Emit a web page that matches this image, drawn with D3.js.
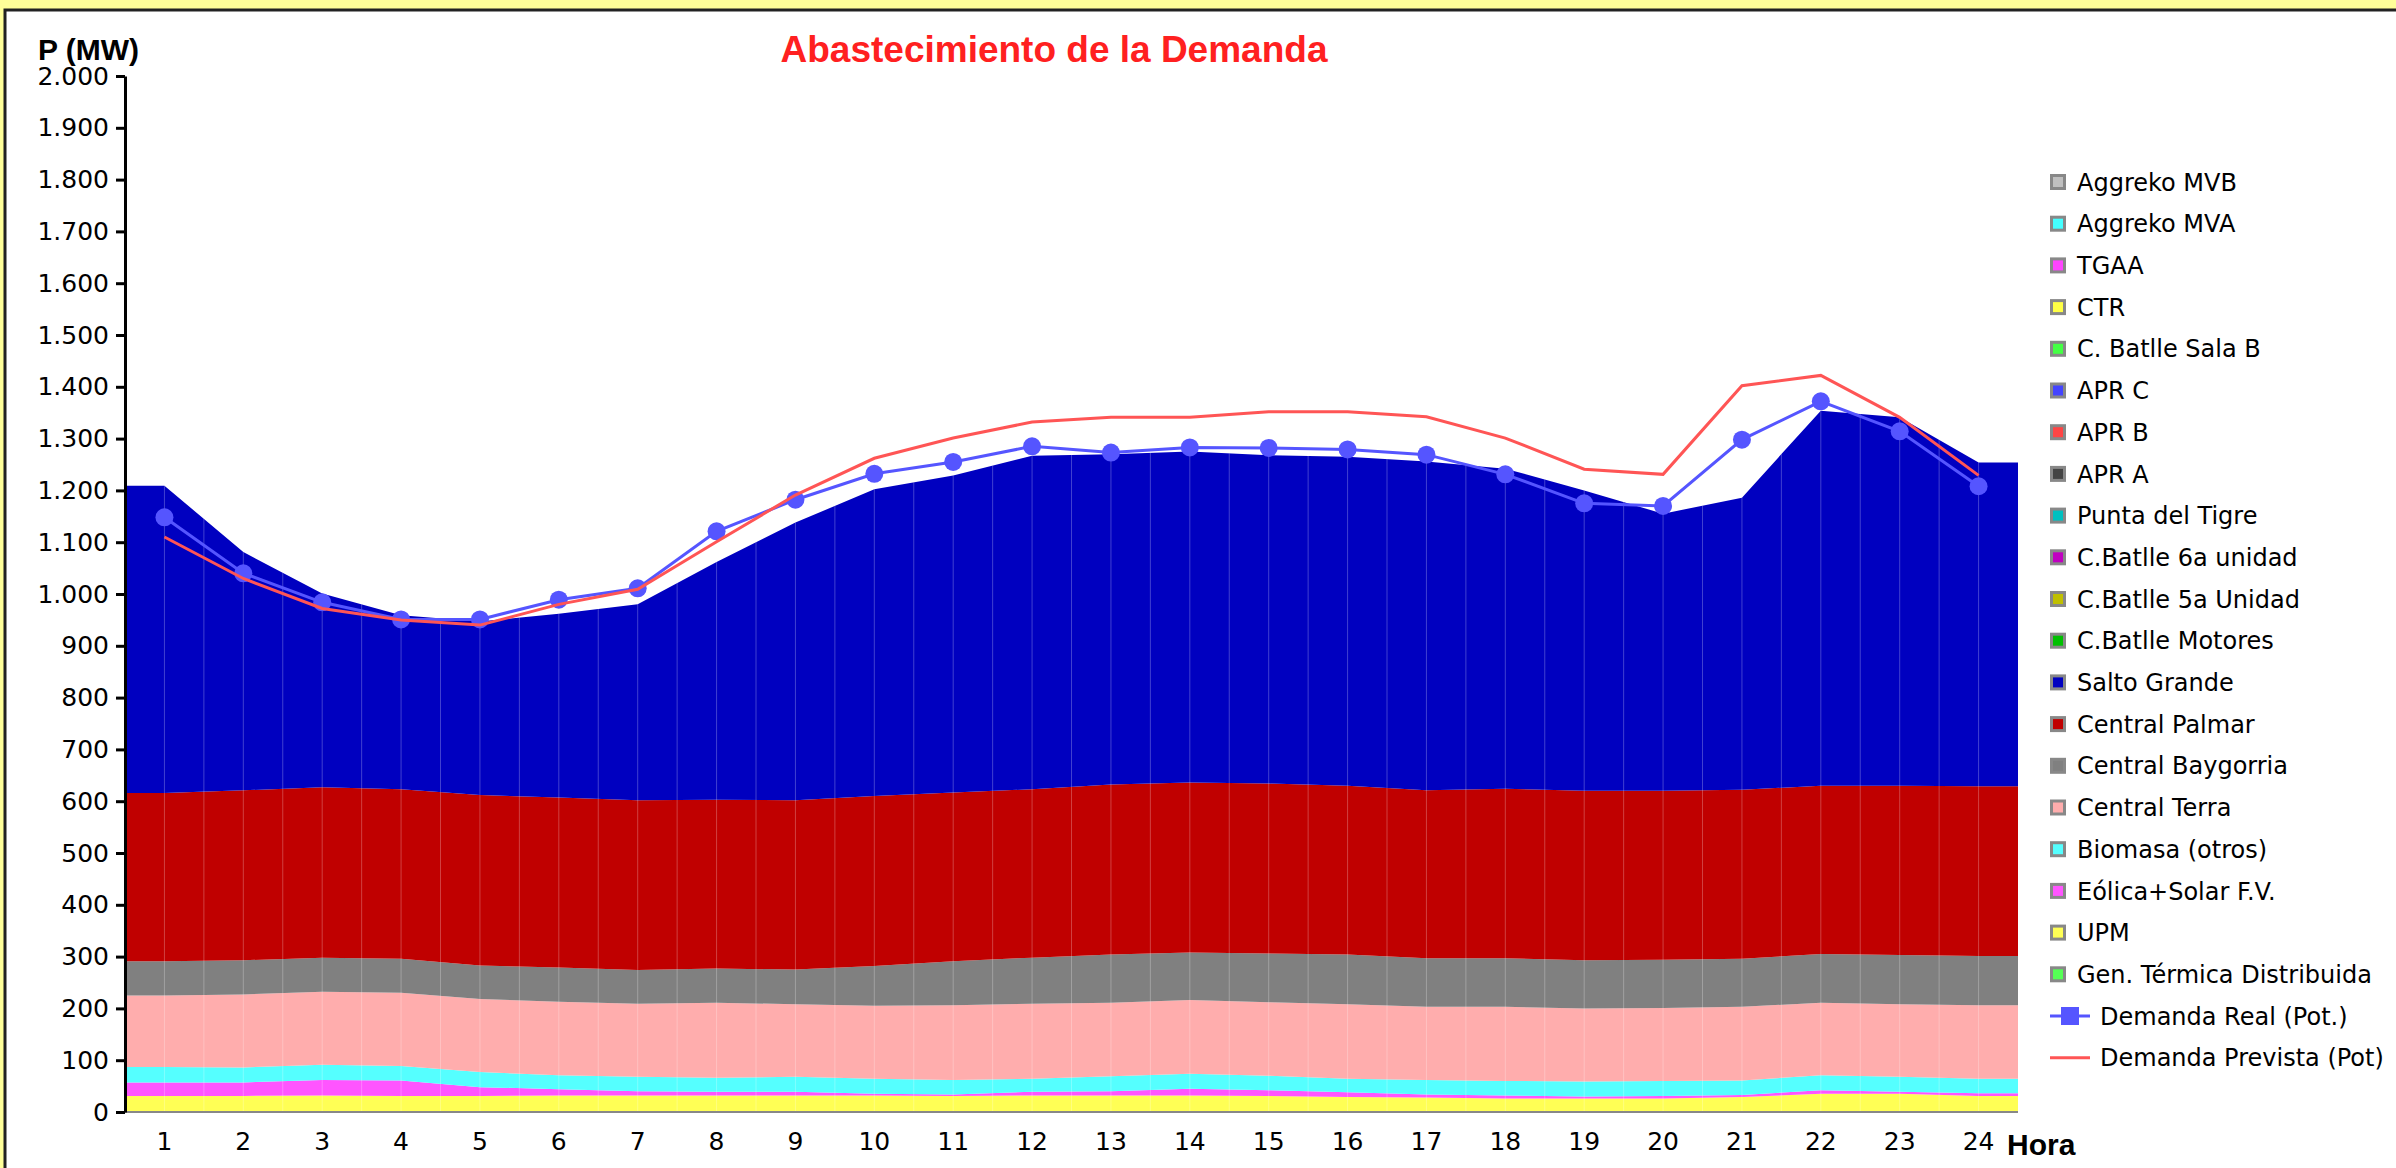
<!DOCTYPE html>
<html>
<head>
<meta charset="utf-8">
<script src="https://cdn.jsdelivr.net/npm/d3@7"></script>
<style>
  html, body { margin: 0; padding: 0; background: #FFFF99; overflow: hidden; }
  svg { display: block; }
</style>
</head>
<body>
<script>
const hours = [1,2,3,4,5,6,7,8,9,10,11,12,13,14,15,16,17,18,19,20,21,22,23,24];

// MW por hora, capas apiladas de abajo hacia arriba
const genTermica  = [2,2,2,2,2,2,2,2,2,2,2,2,2,2,2,2,2,2,2,2,2,2,2,2];
const upm         = [29,29,30,29,29,30,30,30,30,30,29,30,30,30,29,27,26,24,24,24,27,33,33,29];
const eolica      = [26,26,30,30,17,12,8,7,7,3,3,7,8,13,11,9,6,6,4,5,4,7,4,5];
const biomasa     = [30,29,29,28,29,27,28,27,29,29,28,25,29,29,28,26,28,28,29,29,28,29,29,28];
const terra       = [138,141,141,141,141,142,141,145,140,141,144,145,142,142,142,144,141,143,141,141,142,140,140,142];
const baygorria   = [66,66,66,66,65,66,65,66,67,77,85,89,93,92,94,96,94,94,93,93,93,94,95,95];
const palmar      = [325,328,329,327,329,328,328,326,327,328,326,325,328,328,328,326,324,327,327,326,326,325,327,328];
const saltoGrande = [593,460,374,336,335,355,378,459,536,592,612,644,638,639,634,635,635,618,580,535,564,724,711,625];

const demandaReal     = [1148,1040,984,951,951,989,1011,1121,1182,1232,1255,1285,1273,1283,1282,1279,1269,1231,1175,1170,1298,1372,1314,1208];
const demandaPrevista = [1110,1030,972,950,940,980,1009,1101,1191,1262,1301,1332,1341,1341,1352,1352,1342,1301,1241,1231,1402,1422,1341,1229];

const yTicks = [0,100,200,300,400,500,600,700,800,900,1000,1100,1200,1300,1400,1500,1600,1700,1800,1900,2000];

const legendNames = ['Aggreko MVB','Aggreko MVA','TGAA','CTR','C. Batlle Sala B','APR C','APR B','APR A',
  'Punta del Tigre','C.Batlle 6a unidad','C.Batlle 5a Unidad','C.Batlle Motores','Salto Grande',
  'Central Palmar','Central Baygorria','Central Terra','Biomasa (otros)','Eólica+Solar F.V.','UPM',
  'Gen. Térmica Distribuida'];

const colors = {
  'Aggreko MVB': '#C0C0C0', 'Aggreko MVA': '#44FFFF', 'TGAA': '#FF44FF', 'CTR': '#FFFF44',
  'C. Batlle Sala B': '#44FF44', 'APR C': '#4444FF', 'APR B': '#FF4444', 'APR A': '#444444',
  'Punta del Tigre': '#00C0C0', 'C.Batlle 6a unidad': '#C000C0', 'C.Batlle 5a Unidad': '#C0C000',
  'C.Batlle Motores': '#00C000', 'Salto Grande': '#0000C0', 'Central Palmar': '#C00000',
  'Central Baygorria': '#808080', 'Central Terra': '#FFADAD', 'Biomasa (otros)': '#55FFFF',
  'Eólica+Solar F.V.': '#FF55FF', 'UPM': '#FFFF55', 'Gen. Térmica Distribuida': '#55FF55'
};

const stackKeys = ['Gen. Térmica Distribuida','UPM','Eólica+Solar F.V.','Biomasa (otros)',
  'Central Terra','Central Baygorria','Central Palmar','Salto Grande'];
const stackValues = [genTermica, upm, eolica, biomasa, terra, baygorria, palmar, saltoGrande];

const table = hours.map((h, i) => {
  const row = { hora: h };
  stackKeys.forEach((k, j) => row[k] = stackValues[j][i]);
  return row;
});

const width = 2396, height = 1168;
const svg = d3.select('body').append('svg')
    .attr('width', width)
    .attr('height', height);

// panel blanco
svg.append('rect')
    .attr('x', 5).attr('y', 10)
    .attr('width', width).attr('height', height)
    .attr('fill', '#fff')
    .attr('stroke', '#222')
    .attr('stroke-width', 3);

const x = d3.scaleBand().domain(hours).range([125, 2018]);
const cx = h => x(h) + x.bandwidth() / 2;
const y = d3.scaleLinear().domain([0, 2000]).range([1112, 76]);

const stacked = d3.stack().keys(stackKeys)(table);

// puntos en el centro de cada hora, extendidos hasta los bordes
const points = layer => [
  { px: x.range()[0], d: layer[0] },
  ...layer.map((d, i) => ({ px: cx(hours[i]), d })),
  { px: x.range()[1], d: layer[layer.length - 1] }
];

const area = d3.area()
    .x(p => p.px)
    .y0(p => y(p.d[0]))
    .y1(p => y(p.d[1]));

const plot = svg.append('g');

plot.selectAll('path.layer')
  .data(stacked)
  .join('path')
    .attr('class', 'layer')
    .attr('fill', d => colors[d.key])
    .attr('d', d => area(points(d)));

// vetas verticales dentro del area
const topLayer = stacked[stacked.length - 1];
svg.append('clipPath').attr('id', 'clipArea')
  .append('path')
    .attr('d', d3.area().x(p => p.px).y0(y(0)).y1(p => y(p.d[1]))(points(topLayer)));

const seams = [];
for (let k = 1; k < hours.length * 2; k++) seams.push(x.range()[0] + k * x.bandwidth() / 2);
plot.append('g')
    .attr('clip-path', 'url(#clipArea)')
  .selectAll('line')
  .data(seams)
  .join('line')
    .attr('x1', d => d).attr('x2', d => d)
    .attr('y1', y(0)).attr('y2', y(2000))
    .attr('stroke', '#fff')
    .attr('stroke-opacity', 0.25)
    .attr('stroke-width', 1);

// linea base
plot.append('line')
    .attr('x1', x.range()[0]).attr('x2', x.range()[1])
    .attr('y1', y(0)).attr('y2', y(0))
    .attr('stroke', '#888')
    .attr('stroke-width', 2);

// demanda real
const line = d3.line().x((d, i) => cx(hours[i])).y(d => y(d));
plot.append('path')
    .attr('fill', 'none')
    .attr('stroke', '#5555FF')
    .attr('stroke-width', 3)
    .attr('d', line(demandaReal));
plot.selectAll('circle')
  .data(demandaReal)
  .join('circle')
    .attr('cx', (d, i) => cx(hours[i]))
    .attr('cy', d => y(d))
    .attr('r', 9)
    .attr('fill', '#5555FF');

// demanda prevista
plot.append('path')
    .attr('fill', 'none')
    .attr('stroke', '#FF5555')
    .attr('stroke-width', 3)
    .attr('d', line(demandaPrevista));

// ejes
const fmt = d3.formatLocale({ decimal: ',', thousands: '.', grouping: [3], currency: ['', ''] }).format(',');

const yAxis = svg.append('g')
    .attr('transform', `translate(${x.range()[0]},0)`)
    .call(d3.axisLeft(y).tickValues(yTicks).tickFormat(fmt).tickSize(9).tickPadding(7).tickSizeOuter(0));
yAxis.select('.domain').attr('stroke', '#000').attr('stroke-width', 3);
yAxis.selectAll('.tick line').attr('stroke', '#000').attr('stroke-width', 3);
yAxis.selectAll('.tick text')
    .attr('fill', '#000')
    .style('font', '25px "DejaVu Sans"');

const xAxis = svg.append('g')
    .attr('transform', `translate(0,${y(0)})`)
    .call(d3.axisBottom(x).tickSize(0).tickPadding(20));
xAxis.select('.domain').remove();
xAxis.selectAll('.tick text')
    .attr('fill', '#000')
    .style('font', '25px "DejaVu Sans"');

// textos
svg.append('text')
    .attr('x', 1054).attr('y', 62)
    .attr('text-anchor', 'middle')
    .attr('fill', '#FF2020')
    .style('font', 'bold 37px "Liberation Sans", Arial, sans-serif')
    .text('Abastecimiento de la Demanda');

svg.append('text')
    .attr('x', 38).attr('y', 60)
    .attr('fill', '#000')
    .style('font', 'bold 30px "Liberation Sans", Arial, sans-serif')
    .text('P (MW)');

svg.append('text')
    .attr('x', 2007).attr('y', 1155)
    .attr('fill', '#000')
    .style('font', 'bold 30px "Liberation Sans", Arial, sans-serif')
    .text('Hora');

// leyenda
const legend = svg.append('g').attr('transform', 'translate(2050,182)');
const rowH = 41.7;

const items = legend.selectAll('g.item')
  .data(legendNames)
  .join('g')
    .attr('class', 'item')
    .attr('transform', (d, i) => `translate(0,${i * rowH})`);
items.append('rect')
    .attr('x', 1.5).attr('y', -6.5)
    .attr('width', 13).attr('height', 13)
    .attr('fill', d => colors[d])
    .attr('stroke', '#888')
    .attr('stroke-width', 3);
items.append('text')
    .attr('x', 27).attr('dy', '0.36em')
    .attr('fill', '#000')
    .style('font', '24px "DejaVu Sans"')
    .text(d => d);

const lineItems = [
  { name: 'Demanda Real (Pot.)', color: '#5555FF', marker: true },
  { name: 'Demanda Prevista (Pot)', color: '#FF5555', marker: false }
];
const li = legend.selectAll('g.line-item')
  .data(lineItems)
  .join('g')
    .attr('class', 'line-item')
    .attr('transform', (d, i) => `translate(0,${(legendNames.length + i) * rowH})`);
li.append('line')
    .attr('x1', 0).attr('x2', 40)
    .attr('stroke', d => d.color)
    .attr('stroke-width', 3);
li.filter(d => d.marker).append('rect')
    .attr('x', 11).attr('y', -9)
    .attr('width', 18).attr('height', 18)
    .attr('fill', d => d.color);
li.append('text')
    .attr('x', 50).attr('dy', '0.36em')
    .attr('fill', '#000')
    .style('font', '24px "DejaVu Sans"')
    .text(d => d.name);
</script>
</body>
</html>
